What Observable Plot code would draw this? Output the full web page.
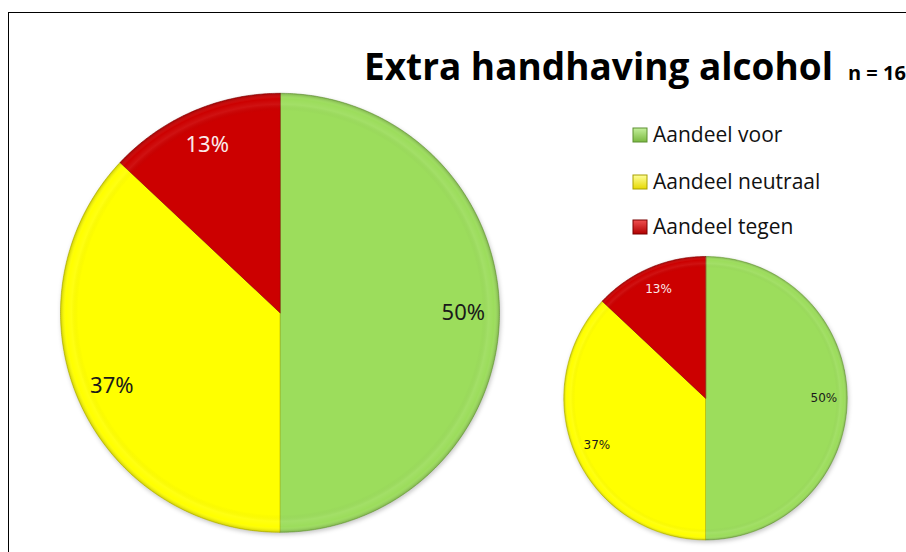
<!DOCTYPE html>
<html><head><meta charset="utf-8">
<script src="https://cdn.jsdelivr.net/npm/d3@7"></script>
<script src="https://cdn.jsdelivr.net/npm/@observablehq/plot@0.6"></script>
<style>
html,body{margin:0;padding:0;background:#fff;overflow:hidden;}
#wrap{position:relative;width:906px;height:552px;overflow:hidden;background:#fff;}
#border{position:absolute;left:8px;top:12px;width:2000px;height:2000px;border-left:1.3px solid #000;border-top:1.3px solid #000;}
#chart{position:absolute;left:0;top:0;}
</style></head><body>
<div id="wrap"><div id="border"></div><div id="chart"></div></div>
<script>
// ---- data ----
const categories = ["Aandeel voor", "Aandeel neutraal", "Aandeel tegen"];
const sharesGroot = [50, 37, 13];
const sharesKlein = [50, 37, 13];
const pieNames = ["groot", "klein"];
const titleText = "Extra handhaving alcohol";
const subtitleText = "n = 16";

// ---- styles / layout ----
const colors = ["#9cdd5c", "#ffff00", "#cc0000"];
const edgeColors = ["#6e9e3e", "#b5b500", "#8a0000"];
const layout = {
  groot: {cx: 279.5, cy: 312.3, r: 219.5, font: 22, family: "Noto Sans"},
  klein: {cx: 705, cy: 397.7, r: 141.7, font: 12, family: "DejaVu Sans"}
};

function slices(name, shares) {
  const total = d3.sum(shares);
  let acc = 0;
  return categories.map((cat, i) => {
    const a0 = acc / total * 2 * Math.PI;
    acc += shares[i];
    const a1 = acc / total * 2 * Math.PI;
    return {pie: name, cat, value: shares[i], a0, a1};
  });
}
const allSlices = [...slices("groot", sharesGroot), ...slices("klein", sharesKlein)];

// polygon points for each slice (angle measured clockwise from 12 o'clock)
const pts = [];
for (const s of allSlices) {
  const L = layout[s.pie];
  const key = s.pie + "|" + s.cat;
  pts.push({key, cat: s.cat, x: L.cx, y: L.cy});
  const n = Math.max(4, Math.ceil((s.a1 - s.a0) / (Math.PI / 360)));
  for (let k = 0; k <= n; ++k) {
    const a = s.a0 + (s.a1 - s.a0) * k / n;
    pts.push({key, cat: s.cat, x: L.cx + L.r * Math.sin(a), y: L.cy - L.r * Math.cos(a)});
  }
}
const labels = allSlices.map(s => {
  const L = layout[s.pie];
  const m = (s.a0 + s.a1) / 2;
  return {...s, x: L.cx + 0.835 * L.r * Math.sin(m), y: L.cy - 0.835 * L.r * Math.cos(m)};
});

const textMarks = [];
for (const p of pieNames) {
  const L = layout[p];
  textMarks.push(Plot.text(labels.filter(d => d.pie === p && d.cat !== "Aandeel tegen"), {
    x: "x", y: "y", text: d => d.value + "%", fontSize: L.font, fontFamily: L.family, fill: "#1a1a1a"
  }));
  textMarks.push(Plot.text(labels.filter(d => d.pie === p && d.cat === "Aandeel tegen"), {
    x: "x", y: "y", text: d => d.value + "%", fontSize: L.font, fontFamily: L.family, fill: "#fbeaea"
  }));
}

const chart = Plot.plot({
  width: 906, height: 552,
  margin: 0,
  style: {background: "transparent", overflow: "visible"},
  x: {domain: [0, 906], range: [0, 906], axis: null},
  y: {domain: [0, 552], range: [0, 552], axis: null},
  color: {domain: categories, range: colors},
  marks: [
    Plot.line(pts, {x: "x", y: "y", z: "key", fill: "cat", stroke: "#000", curve: "linear-closed", strokeWidth: 1, strokeOpacity: 0.45}),
    ...pieNames.map(p => Plot.dot([p], {x: d => layout[d].cx, y: d => layout[d].cy, r: layout[p].r, fill: "url(#rim)", stroke: "none"})),
    ...textMarks
  ]
});
document.getElementById("chart").appendChild(chart);

const svg = d3.select(chart);
const defs = svg.insert("defs", ":first-child");
const rg = defs.append("radialGradient").attr("id", "rim");
[[0, "#000", 0], [0.92, "#000", 0], [0.95, "#fff", 0.07], [0.975, "#fff", 0], [1, "#000", 0.2]].forEach(([o, c, a]) =>
  rg.append("stop").attr("offset", o).attr("stop-color", c).attr("stop-opacity", a));
const lg = [["#c4f09c", "#79b83f", "#5c8f30"], ["#ffff9a", "#e6d800", "#a8a000"], ["#f05050", "#b00000", "#7a0000"]];
lg.forEach(([a, b], i) => {
  const g = defs.append("linearGradient").attr("id", "lg" + i).attr("x1", 0).attr("y1", 0).attr("x2", 0).attr("y2", 1);
  g.append("stop").attr("offset", 0).attr("stop-color", a);
  g.append("stop").attr("offset", 1).attr("stop-color", b);
});
// slice edge strokes: darker tone of each slice colour
svg.selectAll('g[aria-label="line"] path').each(function () {
  const f = this.getAttribute("fill");
  const i = colors.indexOf(f);
  if (i >= 0) { this.setAttribute("stroke", edgeColors[i]); this.setAttribute("stroke-opacity", 0.6); }
});
svg.select('g[aria-label="line"]').style("filter", "drop-shadow(1px 2px 2px rgba(0,0,0,0.22))");

// title
svg.append("text").attr("x", 364).attr("y", 80).attr("text-anchor", "start")
  .attr("font-family", "Open Sans").attr("font-weight", 700).attr("font-size", 37)
  .attr("textLength", 469).attr("lengthAdjust", "spacingAndGlyphs").attr("fill", "#000")
  .text(titleText);
svg.append("text").attr("x", 848).attr("y", 80).attr("text-anchor", "start")
  .attr("font-family", "Open Sans").attr("font-weight", 700).attr("font-size", 20).attr("fill", "#000")
  .text(subtitleText);

// legend
const legTops = [128, 175, 220];
categories.forEach((c, i) => {
  svg.append("rect").attr("x", 633).attr("y", legTops[i]).attr("width", 14).attr("height", 14)
    .attr("fill", `url(#lg${i})`).attr("stroke", lg[i][2]).attr("stroke-width", 1);
  svg.append("text").attr("x", 653).attr("y", legTops[i] + 14).attr("text-anchor", "start")
    .attr("font-family", "Open Sans").attr("font-size", 21).attr("fill", "#111")
    .text(c);
});
</script>
</body></html>
